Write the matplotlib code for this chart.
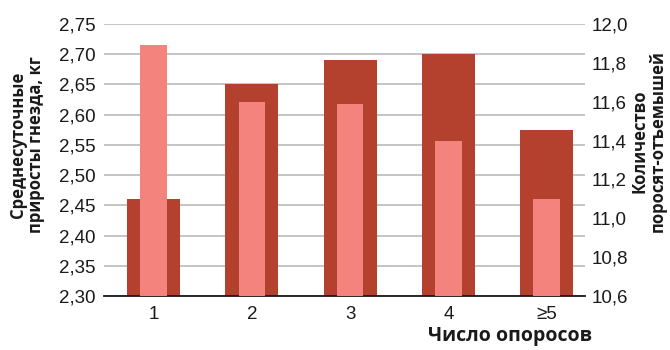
import matplotlib
matplotlib.use("Agg")
import matplotlib.pyplot as plt
import numpy as np

# parity groups
parity = ["1", "2", "3", "4", "\u22655"]
# average daily litter gain, kg (left axis, dark bars)
litter_gain = [2.46, 2.65, 2.69, 2.70, 2.575]
# weaned piglets per litter (right axis, light bars)
weaned = [11.89, 11.6, 11.59, 11.4, 11.1]

dark = "#b4412d"
light = "#f4837e"
grid_col = "#c4c4c4"

plt.rcParams["font.family"] = ["Liberation Sans", "DejaVu Sans"]
title_font = ["Open Sans", "DejaVu Sans"]

fig = plt.figure(figsize=(6.7, 3.5), dpi=100)
ax = fig.add_axes([104 / 670, 54 / 350, (585 - 104) / 670, (296 - 24) / 350])
x = np.arange(len(parity))

ax.bar(x, np.array(litter_gain) - 2.30, bottom=2.30, width=0.54, color=dark, zorder=2)
ax.set_ylim(2.30, 2.75)
ticks1 = np.arange(2.30, 2.751, 0.05)
ax.set_yticks(ticks1)
ax.set_yticklabels([("%.2f" % v).replace(".", ",") for v in ticks1])
ax.yaxis.grid(True, color=grid_col, linewidth=1.4, zorder=0)
ax.set_axisbelow(True)
ax.set_xlim(-0.504, 4.39)
ax.set_xticks(x)
ax.set_xticklabels(parity)

for s in ["top", "right", "left"]:
    ax.spines[s].set_visible(False)
ax.spines["bottom"].set_color("#1a1a1a")
ax.spines["bottom"].set_linewidth(1.3)
ax.spines["bottom"].set_zorder(5)
ax.tick_params(axis="both", length=0, labelsize=13.5, colors="#1a1a1a")
ax.tick_params(axis="y", pad=6)
ax.tick_params(axis="x", pad=7)

ax2 = ax.twinx()
ax2.bar(x, np.array(weaned) - 10.6, bottom=10.6, width=0.27, color=light, zorder=3)
ax2.set_ylim(10.6, 12.0)
ticks2 = np.arange(10.6, 12.001, 0.2)
ax2.set_yticks(ticks2)
ax2.set_yticklabels([("%.1f" % v).replace(".", ",") for v in ticks2])
for s in ["top", "right", "left", "bottom"]:
    ax2.spines[s].set_visible(False)
ax2.tick_params(axis="y", length=0, labelsize=13.5, colors="#1a1a1a", pad=5)

title_kw = dict(fontweight="bold", family=title_font, color="#1a1a1a")
fig.text(27 / 670, 1 - 145 / 350, "Среднесуточные\nприросты гнезда, кг", rotation=90,
         ha="center", va="center", linespacing=1.0, fontsize=12, **title_kw)
fig.text(649 / 670, 1 - 141 / 350, "Количество\nпоросят-отъемышей", rotation=90,
         ha="center", va="center", linespacing=1.0, fontsize=12, **title_kw)
fig.text(510 / 670, 1 - 336 / 350, "Число опоросов", ha="center", va="center",
         fontsize=14, **title_kw)

fig.savefig("out.png", dpi=100)
